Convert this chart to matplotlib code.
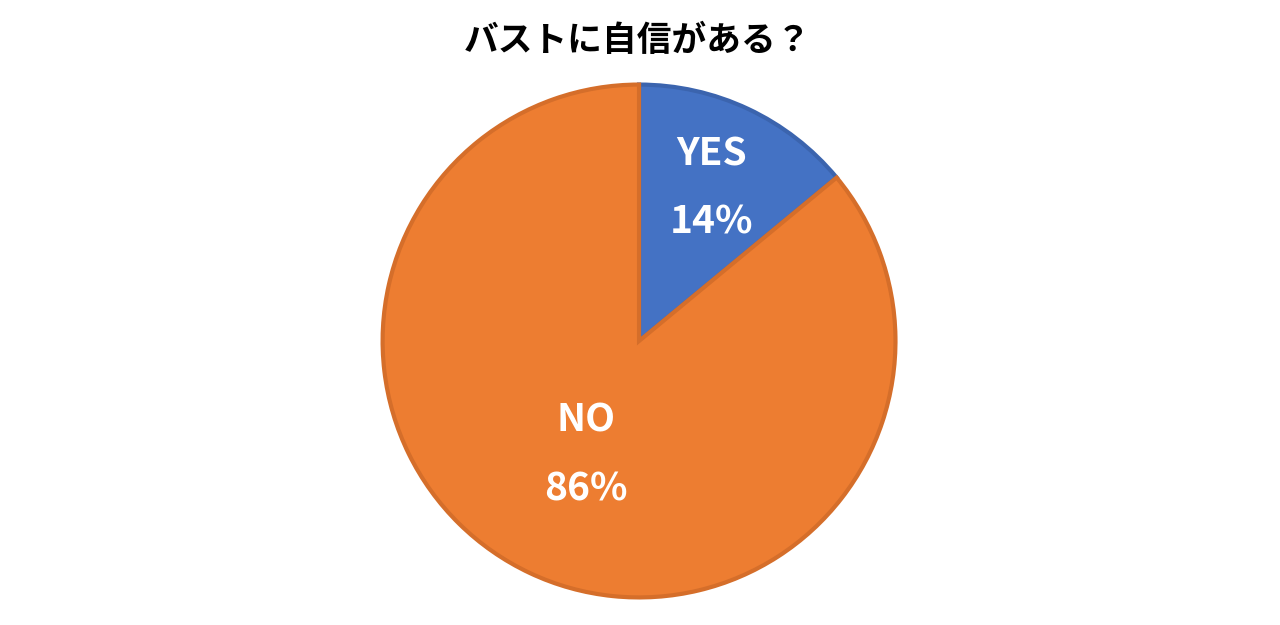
import matplotlib
matplotlib.use('Agg')
import matplotlib.pyplot as plt
import numpy as np

plt.rcParams['font.family'] = ['Noto Sans CJK JP', 'DejaVu Sans']

# data
labels = ['YES', 'NO']
values = [14, 86]
colors = ['#4472C4', '#ED7D31']
edge_colors = ['#3B64AE', '#D56E2A']
label_dist = [0.66, 0.49]

fig = plt.figure(figsize=(12.8, 6.25), dpi=100)
ax = fig.add_axes([0.2969, 0.04, 0.4047, 0.8288])

wedges, _ = ax.pie(values, colors=colors, startangle=90, counterclock=False,
                   wedgeprops=dict(linewidth=3))
for w, ec in zip(wedges, edge_colors):
    w.set_edgecolor(ec)

# labels inside the wedges
for w, lab, v, d in zip(wedges, labels, values, label_dist):
    ang = np.deg2rad((w.theta1 + w.theta2) / 2)
    x, y = d * np.cos(ang), d * np.sin(ang)
    ax.text(x, y, f'{lab}\n\n{v}%', ha='center', va='center', color='white',
            fontsize=28, fontweight='bold', linespacing=0.85)

ax.set_xlim(-1.01, 1.01)
ax.set_ylim(-1.01, 1.01)
ax.set_aspect('equal')
ax.axis('off')

fig.text(0.4977, 0.936, 'バストに自信がある？', ha='center', va='center',
         fontsize=25, fontweight='bold')

fig.savefig('out.png', dpi=100)
